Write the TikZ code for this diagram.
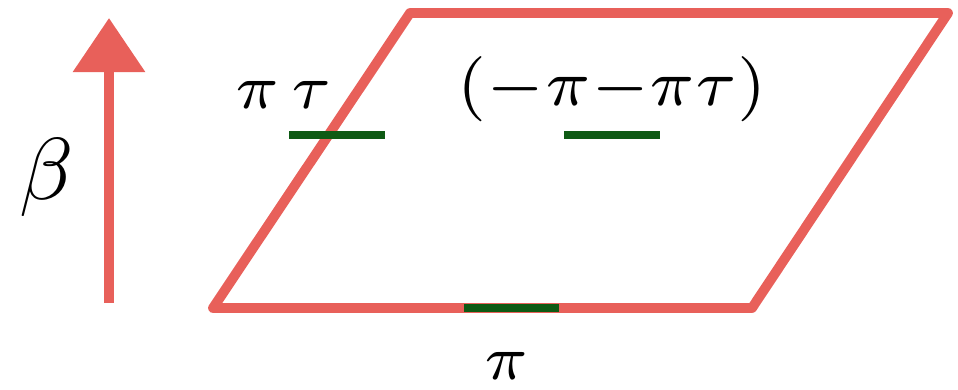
\documentclass[tikz,border=0pt]{standalone}
\usetikzlibrary{arrows.meta}
\definecolor{chalkred}{HTML}{E8605A}
\definecolor{chalkgreen}{HTML}{0E5A14}
\begin{document}
\begin{tikzpicture}[line join=round,
    redline/.style={draw=chalkred, line width=5.6pt},
    greenbar/.style={draw=chalkgreen, line width=4.4pt},
    lbl/.style={scale=5.1, inner sep=0pt, anchor=base}]
\useasboundingbox (0,0) rectangle (19.16,7.78);
% fundamental domain
\draw[redline] (4.26,1.62)--(15.04,1.62)--(18.96,7.52)--(8.20,7.52)--cycle;
\draw[greenbar] (9.28,1.62)--(11.18,1.62);
\draw[greenbar] (5.78,5.08)--(7.70,5.08);
\draw[greenbar] (11.28,5.08)--(13.20,5.08);
% time direction
\draw[redline,-{Triangle[length=1.08cm,width=1.4cm]}] (2.18,1.72)--(2.18,7.42);
\node[lbl, scale=5/5.1] (beta) at (0.94,3.8) {$\beta$};
\node[lbl] (pitau) at (5.68,5.62) {$\scriptstyle\pi\,\tau$};
\node[lbl, scale=5.3/5.1] (corner) at (12.24,5.68) {$\scriptstyle(-\pi-\pi\tau)$};
\node[lbl] (pi) at (10.14,0.2) {$\scriptstyle\pi$};
\end{tikzpicture}
\end{document}
